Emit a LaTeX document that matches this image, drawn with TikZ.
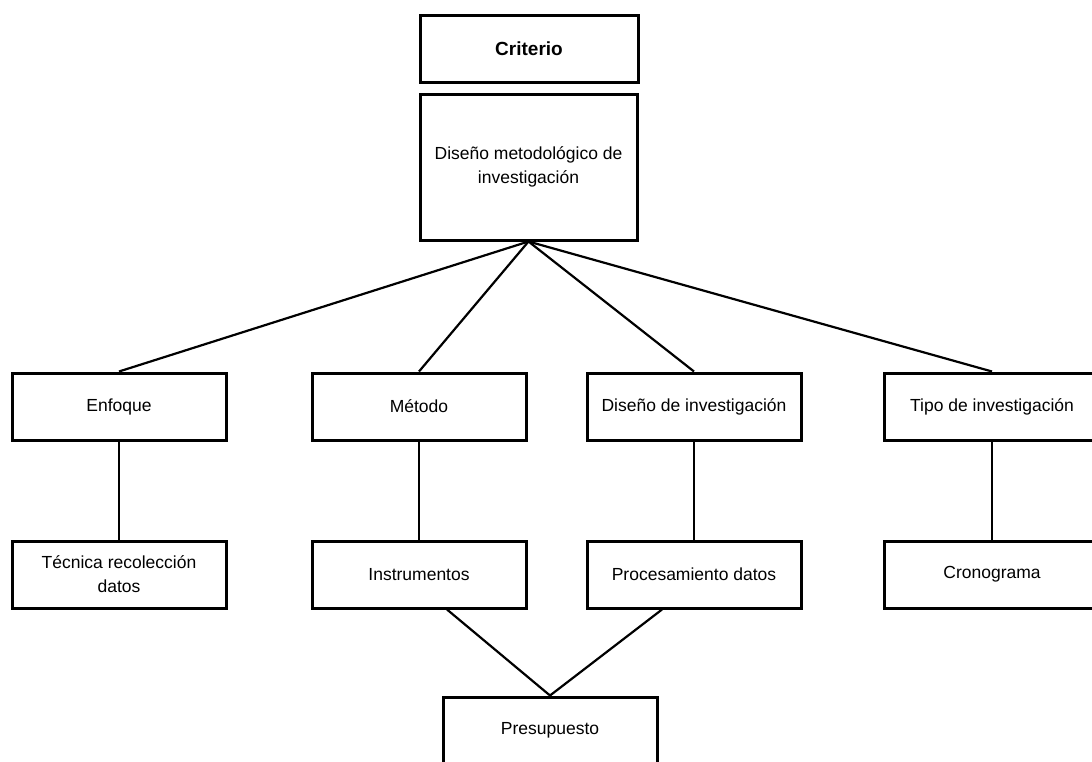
\documentclass[tikz,border=0pt]{standalone}
\usepackage{fontspec}
\setmainfont{Liberation Sans}
\tikzset{
  caja/.style={draw,line width=3pt,minimum width=214pt,minimum height=67pt,
    align=center,inner sep=2pt,font=\fontsize{17.5}{24}\selectfont},
  enlace/.style={line width=2.2pt}
}

\begin{document}
\begin{tikzpicture}[x=1pt,y=-1pt]
      \useasboundingbox (0,0) rectangle (1092,761);
      \clip (0,0) rectangle (1092,761);
      \node[caja,minimum width=218pt,font=\fontsize{19}{23}\selectfont\bfseries]
        (criterio) at (529,48.5) {Criterio};
      \node[caja,minimum width=217pt,minimum height=146pt]
        (diseno) at (528.5,167) {Diseño metodológico de\\investigación};
      % primera fila
      \node[caja] (enfoque) at (119,406.5) {Enfoque};
      \node[caja] (metodo) at (419,406.5) {Método};
      \node[caja] (disinv) at (694,406.5) {Diseño de investigación};
      \node[caja,minimum width=216pt] (tipo) at (992,406.5) {Tipo de investigación};
      % segunda fila
      \node[caja] (tecnica) at (119,574.5) {Técnica recolección\\datos};
      \node[caja] (instr) at (419,574.5) {Instrumentos};
      \node[caja] (proc) at (694,574.5) {Procesamiento datos};
      \node[caja,minimum width=216pt] (crono) at (992,574.5) {Cronograma};
      \node[caja] (presup) at (550,730.5) {Presupuesto};
      % enlaces
      \foreach \n in {enfoque,metodo,disinv,tipo}
        \draw[enlace] (diseno.south)--(\n.north);
      \draw[enlace] (enfoque)--(tecnica);
      \draw[enlace] (metodo)--(instr);
      \draw[enlace] (disinv)--(proc);
      \draw[enlace] (tipo)--(crono);
      \draw[enlace] ([xshift=28pt]instr.south)--(presup.north)
        --([xshift=-32pt]proc.south);
    \end{tikzpicture}
\end{document}
